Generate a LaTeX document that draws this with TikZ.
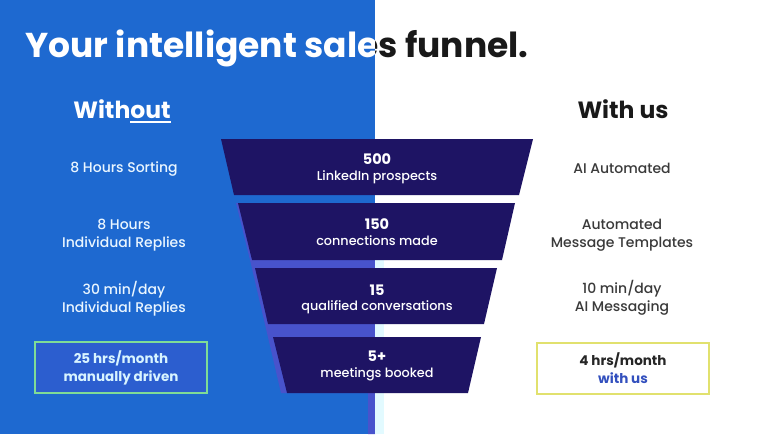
\documentclass[tikz,border=0pt]{standalone}
\usepackage{fontspec}
\setmainfont{Poppins}
\newfontfamily\medfont{Poppins Medium}
\usepackage{xcolor}
\usepackage{tikz}
\usetikzlibrary{calc}

\definecolor{bgblue}{HTML}{1E69D0}
\definecolor{navy}{HTML}{1E1464}
\definecolor{shadeblue}{HTML}{4853CC}
\definecolor{pale}{HTML}{E2FAFF}
\definecolor{lefttxt}{HTML}{EAF6FF}
\definecolor{righttxt}{HTML}{3A3A3A}
\definecolor{greenline}{HTML}{7FDC96}
\definecolor{leftbox}{HTML}{2C5ECF}
\definecolor{yellowline}{HTML}{E1E16E}
\definecolor{usblue}{HTML}{3350BE}
\definecolor{boxtxt}{HTML}{D8F4FF}

\newcommand{\underout}[1]{\setbox0\hbox{#1}\rlap{\rule[-4.4pt]{\wd0}{1.4pt}}\box0}

\begin{document}
\begin{tikzpicture}[x=1pt,y=-1pt,
		side/.style={font=\medfont\fontsize{14}{18.3}\selectfont,align=center,anchor=base},
		num/.style={font=\bfseries\fontsize{14.5}{16}\selectfont,white,anchor=base},
		lbl/.style={font=\medfont\fontsize{12.8}{16}\selectfont,white,anchor=base},
		head/.style={font=\bfseries\fontsize{23.5}{26}\selectfont,anchor=base},
		sumbox/.style={font=\bfseries\fontsize{13.5}{18}\selectfont,align=center,line width=2.4pt,minimum width=172pt,minimum height=51pt}]
	
	% background halves
	\useasboundingbox (0,0) rectangle (768,434);
	\fill[white] (0,0) rectangle (768,434);
	\fill[bgblue] (0,0) rectangle (375,434);
	\fill[shadeblue] (236,203)--(375,203)--(375,434)--(368,434)--(368,393)--(281,393)--(250,260)--cycle;
	\fill[pale] (375,260) rectangle (384,434);
	
	% title, white on blue and black on white
	\begin{scope}
		\clip (0,0) rectangle (375,434);
		\node[white,font=\bfseries\fontsize{34.5}{38}\selectfont,anchor=base west] (titleW) at (22,57.5) {Your intelligent sales funnel.};
	\end{scope}
	\begin{scope}
		\clip (375,0) rectangle (768,434);
		\node[black!90,font=\bfseries\fontsize{34.5}{38}\selectfont,anchor=base west] (titleB) at (22,57.5) {Your intelligent sales funnel.};
	\end{scope}
	
	% column heads
	\node[head,white] (without) at (122,118.3) {With\underout{out}};
	\node[head,black!90] (withus) at (623,118.3) {With us};
	
	% funnel
	\fill[navy] (221,139)--(533,139)--(519,195)--(234,195)--cycle;
	\fill[navy] (238,203)--(515,203)--(502,260)--(252,260)--cycle;
	\fill[navy] (255,268)--(497,268)--(484,324)--(268,324)--cycle;
	\fill[navy] (273,337)--(481,337)--(468,393)--(287,393)--cycle;
	
	\node[num] (n1) at (377,164.3) {500};
	\node[lbl] (l1) at (377,180) {LinkedIn prospects};
	\node[num] (n2) at (377,229.3) {150};
	\node[lbl] (l2) at (377,245) {connections made};
	\node[num] (n3) at (377,295) {15};
	\node[lbl] (l3) at (377,310) {qualified conversations};
	\node[num] (n4) at (377,361.7) {5+};
	\node[lbl] (l4) at (377,377.3) {meetings booked};
	
	% without
	\node[side,lefttxt] (w1) at (124,172.3) {8 Hours Sorting};
	\node[side,lefttxt] (w2) at (124,247.3) {8 Hours\\Individual Replies};
	\node[side,lefttxt] (w3) at (124,312.3) {30 min/day\\Individual Replies};
	\node[sumbox,draw=greenline,fill=leftbox,text=boxtxt] (wbox) at (121,367.5) {25 hrs/month\\manually driven};
	
	% with us
	\node[side,righttxt] (u1) at (622,173.3) {AI Automated};
	\node[side,righttxt] (u2) at (622,247.7) {Automated\\Message Templates};
	\node[side,righttxt] (u3) at (622,311.7) {10 min/day\\AI Messaging};
	\node[sumbox,draw=yellowline,fill=white,text=black!85] (ubox) at (623,368.5) {4 hrs/month\\\textcolor{usblue}{with us}};
	
\end{tikzpicture}
\end{document}
